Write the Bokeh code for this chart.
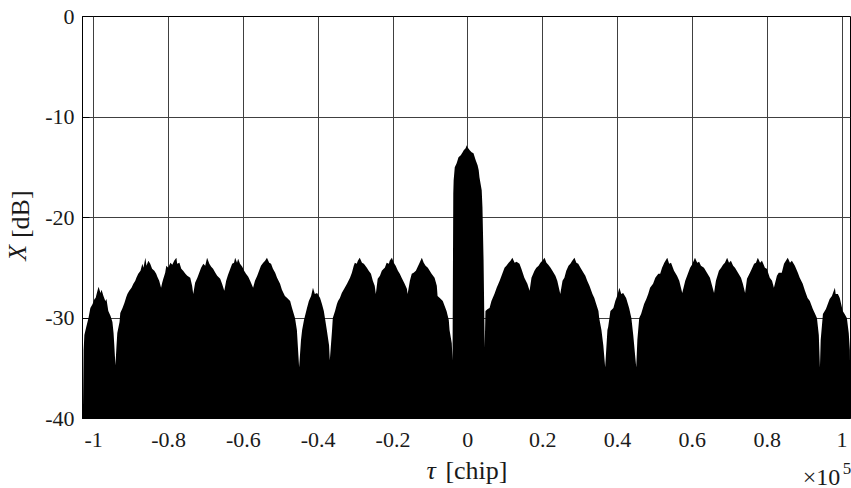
import math
from bokeh.plotting import figure
from bokeh.models import Range1d, FixedTicker, LinearAxis
from bokeh.embed import file_html
from bokeh.resources import INLINE

# tau in units of 1e5 chip, envelope of X in dB
tau_outer_l = [-1.029, -1.027, -1.025, -1.020, -1.014, -1.009, -1.003, -0.998, -0.995, -0.990,
               -0.987, -0.982, -0.979, -0.974, -0.969, -0.966, -0.961, -0.955, -0.950, -0.947,
               -0.945, -0.942]
db_outer_l = [-40.0, -33.2, -31.7, -30.9, -30.0, -29.0, -28.6, -28.1, -28.0, -27.3,
              -26.9, -27.5, -27.2, -27.8, -28.3, -28.1, -29.3, -29.8, -30.4, -31.5,
              -32.7, -34.7]

tau_big_l = [-0.939, -0.937, -0.931, -0.929, -0.923, -0.918, -0.913, -0.910, -0.905, -0.899,
             -0.894, -0.889, -0.886, -0.881, -0.875, -0.870, -0.867, -0.862, -0.859, -0.854,
             -0.849, -0.844, -0.838, -0.833, -0.830, -0.825, -0.820, -0.817, -0.814, -0.809,
             -0.806, -0.801, -0.795, -0.790, -0.785, -0.779, -0.777, -0.771, -0.766, -0.761,
             -0.755, -0.750, -0.742, -0.737, -0.734, -0.729, -0.723, -0.718, -0.713, -0.707,
             -0.702, -0.697, -0.691, -0.686, -0.681, -0.675, -0.670, -0.662, -0.657, -0.651,
             -0.646, -0.641, -0.635, -0.630, -0.625, -0.622, -0.617, -0.614, -0.609, -0.603,
             -0.598, -0.593, -0.587, -0.582, -0.574, -0.569, -0.563, -0.558, -0.553, -0.547,
             -0.542, -0.537, -0.531, -0.526, -0.521, -0.515, -0.510, -0.502, -0.497, -0.489,
             -0.483, -0.475, -0.470, -0.462, -0.457, -0.451]
db_big_l = [-32.7, -31.5, -30.4, -29.5, -29.0, -28.5, -27.9, -27.6, -27.3, -27.0,
            -26.6, -26.3, -26.0, -25.6, -25.3, -24.6, -25.0, -24.0, -24.8, -24.3,
            -24.6, -25.1, -25.3, -25.6, -25.9, -26.3, -27.0, -26.5, -26.1, -25.5,
            -24.8, -25.0, -24.5, -24.7, -24.3, -24.0, -24.6, -24.5, -25.1, -25.3,
            -25.6, -25.8, -26.0, -26.8, -27.6, -26.5, -26.0, -25.5, -25.0, -24.6,
            -24.8, -24.0, -24.6, -24.9, -25.1, -25.5, -25.8, -26.1, -26.6, -27.3,
            -26.3, -25.7, -25.1, -24.6, -24.5, -24.0, -24.5, -24.1, -24.6, -24.9,
            -25.3, -25.6, -25.9, -26.3, -27.0, -26.3, -25.8, -25.3, -24.8, -24.5,
            -24.3, -24.0, -24.5, -24.6, -25.1, -25.5, -26.0, -26.6, -27.2, -27.8,
            -28.0, -28.3, -29.0, -30.0, -31.2, -34.9]

tau_small_l = [-0.446, -0.443, -0.438, -0.430, -0.425, -0.419, -0.414, -0.409, -0.403, -0.395,
               -0.390, -0.385, -0.382, -0.377, -0.371, -0.369]
db_small_l = [-32.2, -31.2, -30.2, -29.0, -28.3, -27.8, -27.0, -27.6, -27.5, -28.0,
              -28.6, -29.3, -30.0, -31.2, -32.7, -34.2]

tau_inner_l = [-0.363, -0.361, -0.355, -0.350, -0.347, -0.342, -0.337, -0.329, -0.323, -0.315,
               -0.310, -0.305, -0.302, -0.297, -0.294, -0.289, -0.283, -0.278, -0.270, -0.265,
               -0.259, -0.254, -0.249, -0.246, -0.241, -0.235, -0.230, -0.225, -0.222, -0.217,
               -0.211, -0.209, -0.203, -0.198, -0.193, -0.187, -0.182, -0.177, -0.169, -0.163,
               -0.161, -0.155, -0.150, -0.145, -0.139, -0.134, -0.129, -0.123, -0.118, -0.113,
               -0.107, -0.102, -0.097, -0.089, -0.083, -0.081, -0.075, -0.067, -0.062, -0.057,
               -0.051, -0.049, -0.043, -0.041]
db_inner_l = [-31.2, -30.0, -29.3, -28.6, -28.3, -28.0, -27.5, -27.0, -26.6, -26.0,
              -25.5, -24.8, -24.5, -24.6, -24.3, -24.0, -24.5, -24.6, -25.0, -25.3,
              -25.6, -26.3, -26.8, -27.6, -26.1, -25.8, -25.3, -25.1, -25.0, -24.5,
              -24.6, -24.3, -24.0, -24.5, -24.8, -25.3, -25.6, -26.0, -26.6, -27.1,
              -27.6, -26.3, -25.6, -25.5, -25.3, -24.9, -24.5, -24.0, -24.5, -24.8,
              -25.0, -25.3, -25.6, -26.0, -26.8, -27.8, -28.0, -28.3, -28.8, -29.3,
              -30.2, -31.2, -32.5, -34.2]

tau_main = [-0.039, -0.038, -0.035, -0.030, -0.025, -0.019, -0.014, -0.011, -0.006, -0.003,
            -0.001, 0.005, 0.010, 0.015, 0.021, 0.026, 0.029, 0.031, 0.037, 0.039,
            0.042, 0.045]
db_main = [-17.6, -16.3, -15.0, -14.6, -14.0, -13.8, -13.5, -13.3, -13.1, -12.8,
           -13.0, -13.3, -13.5, -13.6, -14.3, -14.8, -15.3, -16.0, -17.3, -19.0,
           -24.3, -32.9]

tau_inner_r = [0.047, 0.053, 0.058, 0.063, 0.071, 0.077, 0.085, 0.090, 0.098, 0.103,
               0.109, 0.114, 0.119, 0.125, 0.130, 0.138, 0.143, 0.151, 0.159, 0.165,
               0.170, 0.178, 0.183, 0.189, 0.194, 0.199, 0.205, 0.210, 0.215, 0.221,
               0.226, 0.234, 0.239, 0.247, 0.253, 0.258, 0.263, 0.269, 0.274, 0.279,
               0.285, 0.290, 0.295, 0.301, 0.309, 0.314, 0.319, 0.325, 0.333, 0.338,
               0.343, 0.349, 0.351, 0.357, 0.362, 0.367]
db_inner_r = [-29.3, -29.1, -29.0, -28.3, -27.6, -27.0, -26.3, -25.8, -25.0, -24.8,
              -24.5, -24.3, -24.0, -24.5, -24.4, -24.6, -25.1, -26.0, -26.6, -27.3,
              -26.0, -25.3, -25.0, -24.8, -24.5, -24.3, -24.0, -24.5, -24.7, -25.0,
              -25.3, -25.8, -26.3, -27.6, -26.3, -26.0, -25.3, -24.8, -24.6, -24.3,
              -24.0, -24.5, -24.6, -25.0, -25.5, -25.8, -26.3, -26.8, -27.6, -28.0,
              -28.6, -29.3, -30.0, -31.2, -32.7, -34.9]

tau_small_r = [0.373, 0.375, 0.381, 0.389, 0.394, 0.399, 0.405, 0.410, 0.415, 0.423,
               0.431, 0.437, 0.442, 0.450]
db_small_r = [-31.2, -30.9, -29.3, -29.0, -28.3, -27.8, -27.0, -27.6, -27.5, -28.0,
              -29.0, -30.0, -31.7, -34.9]

tau_big_r = [0.453, 0.458, 0.463, 0.471, 0.477, 0.482, 0.487, 0.495, 0.501, 0.509,
             0.514, 0.519, 0.525, 0.533, 0.538, 0.543, 0.551, 0.559, 0.565, 0.573,
             0.581, 0.589, 0.594, 0.599, 0.607, 0.613, 0.618, 0.623, 0.631, 0.639,
             0.647, 0.658, 0.663, 0.671, 0.677, 0.682, 0.687, 0.693, 0.698, 0.703,
             0.709, 0.714, 0.722, 0.730, 0.735, 0.741, 0.746, 0.754, 0.759, 0.765,
             0.770, 0.775, 0.781, 0.786, 0.794, 0.799, 0.807, 0.813, 0.818, 0.826,
             0.831, 0.839, 0.845, 0.850, 0.855, 0.861, 0.866, 0.874, 0.882, 0.887,
             0.895, 0.901, 0.908, 0.914, 0.922, 0.927, 0.933, 0.938, 0.941]
db_big_r = [-32.2, -30.0, -29.6, -28.6, -28.1, -27.6, -27.0, -26.6, -26.0, -25.6,
            -25.6, -25.0, -24.5, -24.0, -24.6, -24.5, -25.3, -25.8, -26.3, -27.5,
            -26.3, -25.5, -25.0, -24.7, -24.0, -24.5, -24.4, -24.8, -25.0, -25.5,
            -26.0, -27.5, -26.3, -25.3, -25.0, -24.7, -24.5, -24.0, -24.5, -24.3,
            -24.8, -25.0, -25.5, -26.0, -26.6, -27.5, -26.1, -25.5, -25.1, -24.6,
            -24.5, -24.0, -24.5, -24.3, -25.0, -25.1, -26.0, -26.3, -27.0, -25.8,
            -25.5, -25.5, -24.6, -24.3, -24.0, -24.5, -24.3, -24.8, -25.5, -26.0,
            -26.6, -27.3, -28.0, -28.3, -29.1, -29.5, -30.0, -31.7, -34.9]

tau_outer_r = [0.943, 0.949, 0.957, 0.962, 0.967, 0.973, 0.981, 0.983, 0.989, 0.994,
               1.002, 1.007, 1.013, 1.018, 1.021, 1.023]
db_outer_r = [-32.2, -29.6, -29.1, -28.6, -28.1, -27.8, -27.0, -27.6, -27.6, -28.0,
              -29.3, -29.6, -30.0, -31.5, -33.2, -40.0]

x_ticks = [-1.0, -0.8, -0.6, -0.4, -0.2, 0.0, 0.2, 0.4, 0.6, 0.8, 1.0]
x_tick_labels = ["-1", "-0.8", "-0.6", "-0.4", "-0.2", "0", "0.2", "0.4", "0.6", "0.8", "1"]
y_ticks = [-40, -30, -20, -10, 0]
y_tick_labels = ["-40", "-30", "-20", "-10", "0"]

x_title_symbol = "τ"
x_title_unit = "[chip]"
y_title_symbol = "X"
y_title_unit = "\u00a0[dB]"
x_mult_base = "×10"
x_mult_exp = "5"

tau = (tau_outer_l + tau_big_l + tau_small_l + tau_inner_l + tau_main
       + tau_inner_r + tau_small_r + tau_big_r + tau_outer_r)
db = (db_outer_l + db_big_l + db_small_l + db_inner_l + db_main
      + db_inner_r + db_small_r + db_big_r + db_outer_r)
assert len(tau) == len(db)

FONT = "Liberation Serif"
TXT = "#1a1a1a"

p = figure(width=851, height=488, output_backend="svg", toolbar_location=None,
           x_range=Range1d(-1.030, 1.0227), y_range=Range1d(-40, 0),
           min_border_left=80, min_border_right=1, min_border_top=16, min_border_bottom=70)
p.background_fill_color = "white"
p.border_fill_color = "white"
p.outline_line_color = "black"
p.outline_line_width = 1
p.outline_line_alpha = 1.0

p.varea(x=tau, y1=-40, y2=db, fill_color="black", fill_alpha=1.0)

p.xaxis.ticker = FixedTicker(ticks=x_ticks)
p.yaxis.ticker = FixedTicker(ticks=y_ticks)
p.xaxis.major_label_overrides = dict(zip(x_ticks, x_tick_labels))
p.yaxis.major_label_overrides = dict(zip(y_ticks, y_tick_labels))
p.xgrid.ticker = FixedTicker(ticks=x_ticks)
p.ygrid.ticker = FixedTicker(ticks=y_ticks)
for g in (p.xgrid, p.ygrid):
    g.grid_line_color = "#404040"
    g.grid_line_width = 1
    g.grid_line_alpha = 1.0

for ax in (p.xaxis, p.yaxis):
    ax.axis_line_color = "black"
    ax.major_tick_line_color = "black"
    ax.major_tick_in = 7
    ax.major_tick_out = 0
    ax.minor_tick_line_color = None
    ax.major_label_text_font = FONT
    ax.major_label_text_font_size = "22px"
    ax.major_label_text_color = TXT
    ax.axis_label_text_font = FONT
    ax.axis_label_text_font_size = "26px"
    ax.axis_label_text_font_style = "normal"
    ax.axis_label_text_color = TXT
p.xaxis.major_label_standoff = 14
p.yaxis.major_label_standoff = 8
p.yaxis.axis_label = y_title_unit
p.yaxis.axis_label_standoff = 7


def text_axis(side, tick, label, size, style, standoff, orientation="horizontal"):
    ax = LinearAxis(ticker=FixedTicker(ticks=[tick]), major_label_overrides={tick: label})
    ax.axis_line_color = None
    ax.major_tick_line_color = None
    ax.minor_tick_line_color = None
    ax.major_tick_in = 0
    ax.major_tick_out = 0
    ax.major_label_text_font = FONT
    ax.major_label_text_font_size = size
    ax.major_label_text_font_style = style
    ax.major_label_text_color = TXT
    ax.major_label_standoff = standoff
    ax.major_label_orientation = orientation
    p.add_layout(ax, side)
    return ax


# axis-title pieces and the exponent, drawn as tick labels of label-only axes
text_axis("above", -0.0984, x_title_symbol, "26px", "italic", -468)
text_axis("above", 0.0229, x_title_unit, "26px", "normal", -468)
text_axis("above", 0.9453, x_mult_base, "24px", "normal", -473)
text_axis("above", 1.0147, x_mult_exp, "17px", "normal", -457)
text_axis("left", -23.5, y_title_symbol, "26px", "italic", -29, "vertical")

open("out.html", "w").write(file_html(p, INLINE))
